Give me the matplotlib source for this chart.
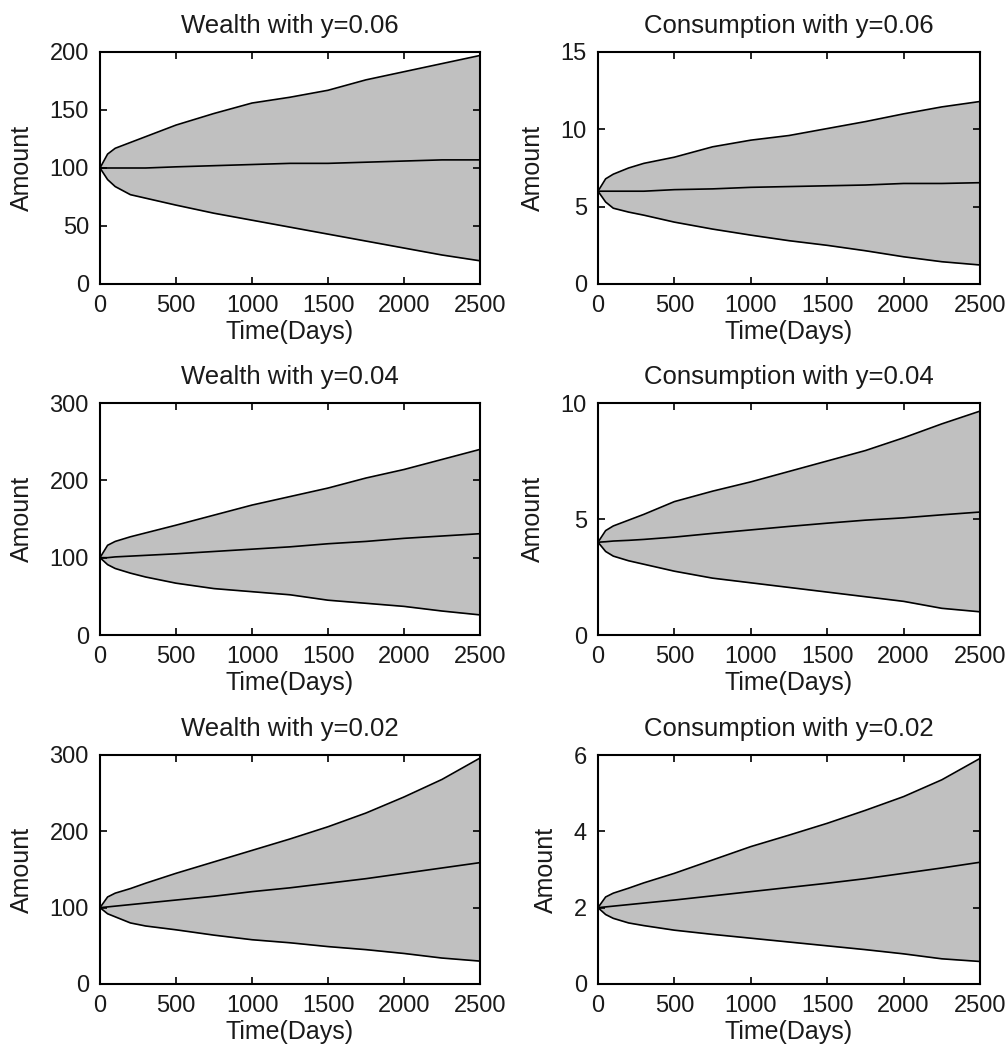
import matplotlib
matplotlib.use("Agg")
import matplotlib.pyplot as plt

plt.rcParams['font.family'] = ['Liberation Sans', 'DejaVu Sans']

days = [0, 50, 100, 200, 300, 500, 750, 1000, 1250, 1500, 1750, 2000, 2250, 2500]

wealth06_up = [100, 112, 117, 122, 127, 137, 147, 156, 161, 167, 176, 183, 190, 197]
wealth06_mean = [100, 100, 100, 100, 100, 101, 102, 103, 104, 104, 105, 106, 107, 107]
wealth06_low = [100, 90, 84, 77, 74, 68, 61, 55, 49, 43, 37, 31, 25, 20]

cons06_up = [6, 6.8, 7.1, 7.5, 7.8, 8.2, 8.87, 9.3, 9.6, 10.05, 10.5, 11.0, 11.45, 11.8]
cons06_mean = [6, 6, 6, 6, 6, 6.1, 6.15, 6.25, 6.3, 6.35, 6.4, 6.5, 6.5, 6.55]
cons06_low = [6, 5.3, 4.9, 4.65, 4.45, 4.0, 3.55, 3.16, 2.8, 2.5, 2.15, 1.76, 1.44, 1.23]

wealth04_up = [100, 116, 121, 127, 132, 142, 155, 168, 179, 190, 203, 214, 227, 240]
wealth04_mean = [100, 100, 101, 102, 103, 105, 108, 111, 114, 118, 121, 125, 128, 131]
wealth04_low = [100, 91, 86, 80, 75, 67, 60, 56, 52, 45, 41, 37, 31, 26]

cons04_up = [4, 4.5, 4.7, 4.95, 5.2, 5.75, 6.2, 6.6, 7.05, 7.5, 7.95, 8.5, 9.1, 9.65]
cons04_mean = [4, 4.02, 4.05, 4.08, 4.12, 4.22, 4.38, 4.53, 4.68, 4.82, 4.95, 5.05, 5.18, 5.3]
cons04_low = [4, 3.6, 3.4, 3.2, 3.05, 2.75, 2.45, 2.25, 2.05, 1.85, 1.65, 1.45, 1.15, 1.0]

wealth02_up = [100, 114, 119, 125, 132, 145, 160, 175, 190, 206, 224, 245, 268, 296]
wealth02_mean = [100, 101, 102, 104, 106, 110, 115, 121, 126, 132, 138, 145, 152, 159]
wealth02_low = [100, 92, 88, 80, 76, 71, 64, 58, 54, 49, 45, 40, 34, 30]

cons02_up = [2, 2.28, 2.38, 2.51, 2.65, 2.9, 3.25, 3.6, 3.9, 4.21, 4.55, 4.91, 5.35, 5.91]
cons02_mean = [2, 2.02, 2.04, 2.08, 2.12, 2.2, 2.31, 2.42, 2.53, 2.64, 2.76, 2.9, 3.04, 3.19]
cons02_low = [2, 1.82, 1.72, 1.6, 1.53, 1.41, 1.3, 1.2, 1.1, 1.0, 0.9, 0.79, 0.66, 0.59]

titles = ["Wealth with y=0.06", "Consumption with y=0.06",
          "Wealth with y=0.04", "Consumption with y=0.04",
          "Wealth with y=0.02", "Consumption with y=0.02"]
panels = [(wealth06_low, wealth06_mean, wealth06_up),
          (cons06_low, cons06_mean, cons06_up),
          (wealth04_low, wealth04_mean, wealth04_up),
          (cons04_low, cons04_mean, cons04_up),
          (wealth02_low, wealth02_mean, wealth02_up),
          (cons02_low, cons02_mean, cons02_up)]
yticks_list = [[0, 50, 100, 150, 200], [0, 5, 10, 15],
               [0, 100, 200, 300], [0, 5, 10],
               [0, 100, 200, 300], [0, 2, 4, 6]]
xticks = [0, 500, 1000, 1500, 2000, 2500]

W, H = 1007, 1059
fig = plt.figure(figsize=(W / 100, H / 100), dpi=100)

rows = [(52, 284), (403, 635), (755, 984)]
cols = [(100, 480), (598, 980)]

text_color = '#1a1a1a'
for i, (title, (lo, mn, up), yt) in enumerate(zip(titles, panels, yticks_list)):
    r, c = divmod(i, 2)
    top, bot = rows[r]
    left, right = cols[c]
    ax = fig.add_axes([left / W, 1 - bot / H, (right - left) / W, (bot - top) / H])
    ax.fill_between(days, lo, up, color='#c0c0c0', linewidth=0)
    ax.plot(days, up, color='black', linewidth=1.2)
    ax.plot(days, lo, color='black', linewidth=1.2)
    ax.plot(days, mn, color='black', linewidth=1.2)
    ax.set_xlim(0, 2500)
    ax.set_ylim(yt[0], yt[-1])
    ax.set_xticks(xticks)
    ax.set_yticks(yt)
    ax.tick_params(direction='in', length=5, width=1.2, top=True, right=True,
                   labelsize=17, pad=8, colors='black', labelcolor=text_color)
    for s in ax.spines.values():
        s.set_linewidth(1.5)
    ax.set_title(title, fontsize=18.5, pad=14, color=text_color)
    ax.set_xlabel("Time(Days)", fontsize=18, labelpad=2, color=text_color)
    ax.set_ylabel("Amount", fontsize=18, labelpad=11, color=text_color)

fig.savefig("out.png", dpi=100)
